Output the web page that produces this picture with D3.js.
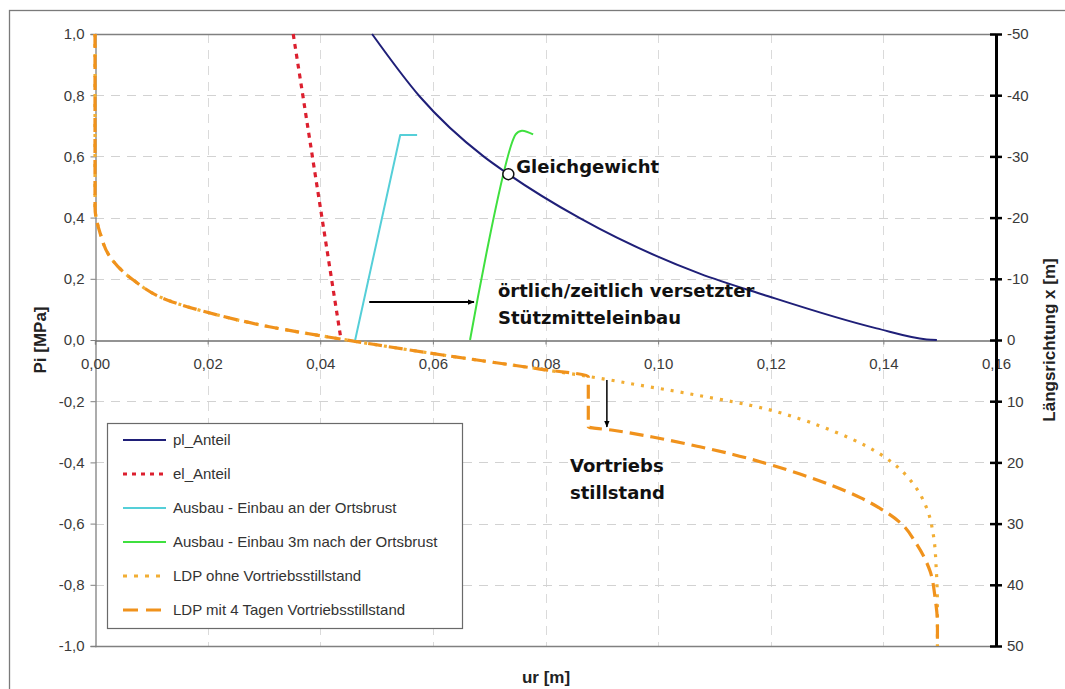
<!DOCTYPE html>
<html>
<head>
<meta charset="utf-8">
<script src="https://cdn.jsdelivr.net/npm/d3@7"></script>
<style>
  html, body { margin: 0; padding: 0; background: #fff; }
  svg { display: block; }
</style>
</head>
<body>
<svg id="chart" width="1065" height="689"></svg>
<script>
// Ground reaction curve (Kennlinie) with support characteristics and LDP
// ---- data ----
const plUr = [0.0492, 0.0577, 0.0690, 0.0734, 0.0861, 0.1074, 0.1187, 0.1388, 0.1477, 0.1495];
const plPi = [1.0, 0.795, 0.600, 0.542, 0.398, 0.217, 0.148, 0.038, 0.002, 0.0];

const elUr = [0.0352, 0.0437];
const elPi = [1.0, 0.0];

const ausbauOrtsbrustUr = [0.0462, 0.0542, 0.0572];
const ausbauOrtsbrustPi = [0.0, 0.670, 0.670];

const ausbau3mUr = [0.0666, 0.0747, 0.0758, 0.0778];
const ausbau3mPi = [0.0, 0.672, 0.684, 0.672];

// common part of both LDPs (from x = -50 m down to the standstill point)
const ldpCommonUr = [0, 0, 0.0009, 0.0027, 0.0068, 0.0128, 0.0217, 0.0305, 0.0394, 0.0440, 0.0494, 0.0643, 0.0790, 0.0876];
const ldpCommonPi = [1.0, 0.435, 0.350, 0.271, 0.196, 0.131, 0.082, 0.045, 0.016, 0.002, -0.014, -0.056, -0.095, -0.119];

const ldpOhneUr = [0.0909, 0.0968, 0.1026, 0.1074, 0.1133, 0.1193, 0.1252, 0.1311, 0.1370, 0.1418, 0.1453, 0.1477, 0.1489, 0.1494, 0.1496, 0.1496];
const ldpOhnePi = [-0.129, -0.148, -0.166, -0.182, -0.202, -0.226, -0.258, -0.298, -0.347, -0.404, -0.470, -0.550, -0.640, -0.752, -0.872, -1.0];

const ldpMitUr = [0.0876, 0.0920, 0.0990, 0.1074, 0.1133, 0.1193, 0.1252, 0.1311, 0.1359, 0.1394, 0.1430, 0.1459, 0.1483, 0.1492, 0.1496, 0.1496];
const ldpMitPi = [-0.284, -0.295, -0.317, -0.349, -0.374, -0.404, -0.438, -0.477, -0.515, -0.550, -0.597, -0.667, -0.756, -0.845, -0.926, -1.0];

const equilibrium = { ur: 0.0734, pi: 0.542 };

// annotation arrows (ur, Pi)
const arrowShiftUr = [0.0487, 0.0673];
const arrowShiftPi = [0.124, 0.124];
const arrowStopUr = [0.0909, 0.0909];
const arrowStopPi = [-0.131, -0.284];

const xTicks = [0, 0.02, 0.04, 0.06, 0.08, 0.10, 0.12, 0.14, 0.16];
const yTicks = [1.0, 0.8, 0.6, 0.4, 0.2, 0.0, -0.2, -0.4, -0.6, -0.8, -1.0];
const xLongTicks = [-50, -40, -30, -20, -10, 0, 10, 20, 30, 40, 50];

const legendLabels = [
  "pl_Anteil",
  "el_Anteil",
  "Ausbau - Einbau an der Ortsbrust",
  "Ausbau - Einbau 3m nach der Ortsbrust",
  "LDP ohne Vortriebsstillstand",
  "LDP mit 4 Tagen Vortriebsstillstand"
];

// ---- layout ----
const svg = d3.select("#chart");
const plotLeft = 95, plotTop = 34, plotRight = 996, plotBottom = 646;

const x = d3.scaleLinear().domain([0, 0.16]).range([plotLeft, plotRight]);
const y = d3.scaleLinear().domain([-1, 1]).range([plotBottom, plotTop]);
const yLong = d3.scaleLinear().domain([-50, 50]).range([plotTop, plotBottom]);

const fmt = d3.format(".2f");
const fmtY = d3.format(".1f");
const comma = s => s.replace(".", ",").replace("−", "-");

const tickFont = "'Liberation Sans', Arial, sans-serif";
const boldFont = "'DejaVu Sans', Verdana, sans-serif";

// outer frame
svg.append("rect")
  .attr("x", 9.5).attr("y", 10.5)
  .attr("width", 1100).attr("height", 720)
  .attr("fill", "none").attr("stroke", "#7a7a7a").attr("stroke-width", 1.3);

// ---- grid ----
const grid = svg.append("g").attr("class", "grid");
grid.selectAll("line.gx")
  .data(xTicks.filter(d => d > 0 && d < 0.16))
  .join("line")
  .attr("x1", d => Math.round(x(d)) + 0.5).attr("x2", d => Math.round(x(d)) + 0.5)
  .attr("y1", plotTop).attr("y2", plotBottom)
  .attr("stroke", "#dadada").attr("stroke-width", 1).attr("stroke-dasharray", "9,7");
grid.selectAll("line.gy")
  .data(yTicks.filter(d => Math.abs(d) > 1e-9 && Math.abs(d) < 1))
  .join("line")
  .attr("x1", plotLeft).attr("x2", plotRight)
  .attr("y1", d => Math.round(y(d)) + 0.5).attr("y2", d => Math.round(y(d)) + 0.5)
  .attr("stroke", "#d2d2d2").attr("stroke-width", 1).attr("stroke-dasharray", "9,7");

// plot frame: top and bottom borders
svg.append("line").attr("x1", plotLeft).attr("x2", plotRight).attr("y1", plotTop + 0.5).attr("y2", plotTop + 0.5)
  .attr("stroke", "#808080").attr("stroke-width", 1.3);
svg.append("line").attr("x1", plotLeft).attr("x2", plotRight).attr("y1", plotBottom + 0.5).attr("y2", plotBottom + 0.5)
  .attr("stroke", "#808080").attr("stroke-width", 1.3);

// ---- left axis (Pi) ----
const yAxis = d3.axisLeft(y).tickValues(yTicks).tickSize(5).tickPadding(6)
  .tickFormat(d => comma(fmtY(d)));
const gy = svg.append("g").attr("transform", `translate(${plotLeft + 0.5},0)`).call(yAxis);
gy.select(".domain").attr("stroke", "#808080").attr("stroke-width", 1.3);
gy.selectAll(".tick line").attr("stroke", "#808080");
gy.selectAll(".tick text").attr("font-family", tickFont).attr("font-size", 15).attr("fill", "#3a3a3a");

// ---- bottom axis on Pi = 0 ----
const xAxis = d3.axisBottom(x).tickValues(xTicks).tickSize(4).tickPadding(14)
  .tickFormat(d => comma(fmt(d)));
const gx = svg.append("g").attr("transform", `translate(0,${y(0) + 0.5})`).call(xAxis);
gx.select(".domain").attr("stroke", "#707070").attr("stroke-width", 1.3);
gx.selectAll(".tick line").attr("stroke", "#808080");
gx.selectAll(".tick text").attr("font-family", tickFont).attr("font-size", 15).attr("fill", "#3a3a3a");

// ---- right axis (Längsrichtung x) ----
const yAxisR = d3.axisRight(yLong).tickValues(xLongTicks).tickSize(0).tickPadding(11)
  .tickFormat(d => String(d));
const gr = svg.append("g").attr("transform", `translate(${plotRight},0)`).call(yAxisR);
gr.select(".domain").attr("stroke", "#000").attr("stroke-width", 3);
gr.selectAll(".tick text").attr("font-family", tickFont).attr("font-size", 15).attr("fill", "#3a3a3a");
gr.selectAll(".tick").append("line")
  .attr("x1", -6).attr("x2", 6).attr("y1", 0).attr("y2", 0)
  .attr("stroke", "#000").attr("stroke-width", 2.5);

// ---- axis titles ----
svg.append("text")
  .attr("transform", `translate(46,${y(0)}) rotate(-90)`)
  .attr("text-anchor", "middle")
  .attr("font-family", tickFont).attr("font-weight", "bold").attr("font-size", 17)
  .attr("fill", "#222").text("Pi [MPa]");
svg.append("text")
  .attr("x", 546).attr("y", 683)
  .attr("text-anchor", "middle")
  .attr("font-family", tickFont).attr("font-weight", "bold").attr("font-size", 17)
  .attr("fill", "#222").text("ur [m]");
svg.append("text")
  .attr("transform", `translate(1055,${y(0)}) rotate(-90)`)
  .attr("text-anchor", "middle")
  .attr("font-family", tickFont).attr("font-weight", "bold").attr("font-size", 17)
  .attr("fill", "#222").text("Längsrichtung x [m]");

// ---- series ----
const zip = (us, ps) => us.map((u, i) => [u, ps[i]]);
const lineX = d3.line().x(d => x(d[0])).y(d => y(d[1])).curve(d3.curveMonotoneX);
const lineY = d3.line().x(d => x(d[0])).y(d => y(d[1])).curve(d3.curveMonotoneY);
const lineL = d3.line().x(d => x(d[0])).y(d => y(d[1]));

const series = svg.append("g");

const styles = {
  pl:   { stroke: "#1f1f78", width: 2,   dash: null },
  el:   { stroke: "#dc1f2e", width: 3.2, dash: "5,5" },
  aus0: { stroke: "#55cfd8", width: 2,   dash: null },
  aus3: { stroke: "#3fe03f", width: 2,   dash: null },
  ohne: { stroke: "#f2ae34", width: 3.2, dash: "3,7" },
  mit:  { stroke: "#f0921c", width: 3.2, dash: "14,7" }
};

const ldpOhne = zip(ldpCommonUr, ldpCommonPi).concat(zip(ldpOhneUr, ldpOhnePi));
const ldpMit = zip(ldpCommonUr, ldpCommonPi).concat(zip(ldpMitUr, ldpMitPi));

function draw(path, st) {
  series.append("path").attr("d", path)
    .attr("fill", "none").attr("stroke", st.stroke).attr("stroke-width", st.width)
    .attr("stroke-dasharray", st.dash).attr("stroke-linejoin", "round");
}
draw(lineY(ldpOhne), styles.ohne);
draw(lineY(ldpMit), styles.mit);
draw(lineL(zip(elUr, elPi)), styles.el);
draw(lineL(zip(ausbauOrtsbrustUr, ausbauOrtsbrustPi)), styles.aus0);
draw(d3.line().x(d => x(d[0])).y(d => y(d[1])).curve(d3.curveCatmullRom.alpha(0.5))(zip(ausbau3mUr, ausbau3mPi)), styles.aus3);
draw(lineX(zip(plUr, plPi)), styles.pl);

// equilibrium point
svg.append("circle")
  .attr("cx", x(equilibrium.ur)).attr("cy", y(equilibrium.pi)).attr("r", 5.5)
  .attr("fill", "#fff").attr("stroke", "#111").attr("stroke-width", 1.5);

// ---- annotations ----
const defs = svg.append("defs");
defs.append("marker").attr("id", "arrowhead")
  .attr("viewBox", "0 0 10 10").attr("refX", 9).attr("refY", 5)
  .attr("markerWidth", 7).attr("markerHeight", 7).attr("orient", "auto")
  .attr("markerUnits", "userSpaceOnUse")
  .append("path").attr("d", "M0,1 L10,5 L0,9 Z").attr("fill", "#000");

svg.append("path").attr("d", lineL(zip(arrowShiftUr, arrowShiftPi)))
  .attr("stroke", "#000").attr("stroke-width", 2).attr("fill", "none")
  .attr("marker-end", "url(#arrowhead)");
svg.append("path").attr("d", lineL(zip(arrowStopUr, arrowStopPi)))
  .attr("stroke", "#000").attr("stroke-width", 1.5).attr("fill", "none")
  .attr("marker-end", "url(#arrowhead)");

const note = (tx, ty, str) => svg.append("text")
  .attr("x", tx).attr("y", ty)
  .attr("font-family", boldFont).attr("font-weight", "bold").attr("font-size", 18)
  .attr("fill", "#111").text(str);
note(x(equilibrium.ur) + 8, y(equilibrium.pi) - 1, "Gleichgewicht");
note(498, 297, "örtlich/zeitlich versetzter");
note(498, 324, "Stützmitteleinbau");
note(570, 472, "Vortriebs");
note(570, 499, "stillstand");

// ---- legend ----
const legend = svg.append("g");
legend.append("rect")
  .attr("x", 107.5).attr("y", 423.5).attr("width", 355).attr("height", 205)
  .attr("fill", "#fff").attr("stroke", "#6a6a6a").attr("stroke-width", 1.2);
const legendKeys = ["pl", "el", "aus0", "aus3", "ohne", "mit"];
const legendDash = { pl: null, el: "4,5", aus0: null, aus3: null, ohne: "4,7", mit: "15,8" };
legendKeys.forEach((k, i) => {
  const ly = 440 + i * 34;
  legend.append("line")
    .attr("x1", 123).attr("x2", 166).attr("y1", ly).attr("y2", ly)
    .attr("stroke", styles[k].stroke)
    .attr("stroke-width", styles[k].dash ? 3 : 2)
    .attr("stroke-dasharray", legendDash[k]);
  legend.append("text")
    .attr("x", 173).attr("y", ly + 5)
    .attr("font-family", tickFont).attr("font-size", 15).attr("fill", "#333")
    .text(legendLabels[i]);
});
</script>
</body>
</html>
